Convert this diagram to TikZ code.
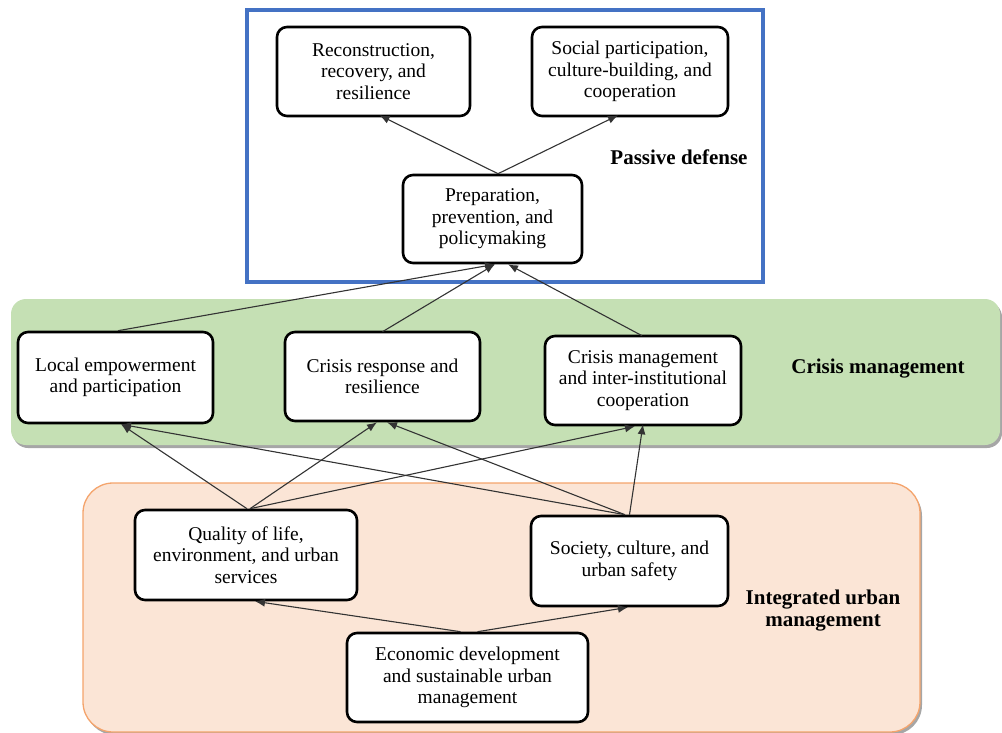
\documentclass[tikz,border=0pt]{standalone}
\usepackage{fontspec}
\setmainfont{Liberation Serif}
\usetikzlibrary{arrows.meta}
\definecolor{pdblue}{HTML}{4472C4}
\definecolor{cmgreen}{HTML}{C5E0B4}
\definecolor{iufill}{HTML}{FBE5D6}
\definecolor{iuline}{HTML}{F4A46C}
\definecolor{lnk}{HTML}{333333}
\tikzset{
  box/.style={draw=black, line width=2.6pt, rounded corners=10pt, fill=white,
    align=center, inner sep=1pt, font=\fontsize{19.5}{21.5}\selectfont},
  lbl/.style={align=center, font=\fontsize{21}{22}\selectfont\bfseries},
  link/.style={draw=lnk, line width=1.1pt, -{Latex[length=10pt,width=8pt]}},
  plain/.style={draw=lnk, line width=1.1pt}
}
\begin{document}
\begin{tikzpicture}[x=1pt,y=-1pt]
\useasboundingbox (0,0) rectangle (1002,733);
% bands
\fill[gray!70, rounded corners=15pt] (13,302) rectangle (1002,448);
\fill[cmgreen, rounded corners=15pt] (11,299) rectangle (1000,445);
\fill[gray!70, rounded corners=30pt] (85,486) rectangle (922,735);
\filldraw[fill=iufill, draw=iuline, line width=1.3pt, rounded corners=30pt] (83,483) rectangle (920,732);
\draw[pdblue, line width=3.5pt] (247,10) rectangle (763,282);
% nodes
\node[box, minimum width=193pt, minimum height=89pt] (rec) at (373.5,71.5) {Reconstruction,\\recovery, and\\resilience};
\node[box, minimum width=196pt, minimum height=89pt] (soc) at (630,71.5) {Social participation,\\culture-building, and\\cooperation};
\node[box, minimum width=179pt, minimum height=88pt] (prep) at (492.5,219) {Preparation,\\prevention, and\\policymaking};
\node[box, minimum width=195pt, minimum height=91pt] (loc) at (115.5,377.5) {Local empowerment\\and participation};
\node[box, minimum width=195pt, minimum height=89pt] (cres) at (382.5,376.5) {Crisis response and\\resilience};
\node[box, minimum width=196pt, minimum height=89pt] (cmg) at (643,380.5) {Crisis management\\and inter-institutional\\cooperation};
\node[box, minimum width=222pt, minimum height=90pt] (qual) at (246,555) {Quality of life,\\environment, and urban\\services};
\node[box, minimum width=197pt, minimum height=90pt] (socy) at (629.5,561) {Society, culture, and\\urban safety};
\node[box, minimum width=241pt, minimum height=89pt] (econ) at (467.5,677.5) {Economic development\\and sustainable urban\\management};
% labels
\node[lbl] (lpd) at (679,157) {Passive defense};
\node[lbl] (lcm) at (878,369) {Crisis management};
\node[lbl] (liu) at (823,611) {Integrated urban\\management};
% connectors
\draw[link] ([xshift=5.5pt]prep.north) -- ([xshift=6pt,yshift=2pt]rec.south);
\draw[link] ([xshift=5.5pt]prep.north) -- ([xshift=-12pt,yshift=2pt]soc.south);
\draw[link] ([xshift=2.5pt]loc.north) -- ([xshift=2.5pt]prep.south);
\draw[link] ([xshift=0pt,yshift=-1pt]cres.north) -- ([xshift=2.5pt]prep.south);
\draw[link] ([xshift=-1pt,yshift=-1pt]cmg.north) -- ([xshift=15.5pt]prep.south);
\draw[link] ([xshift=1pt]qual.north) -- ([xshift=5.5pt]loc.south);
\draw[link] ([xshift=4pt]qual.north) -- ([xshift=-5.5pt]cres.south);
\draw[link] ([xshift=4pt]qual.north) -- ([xshift=-8pt]cmg.south);
\draw[link] ([xshift=-4.5pt]socy.north) -- ([xshift=5.5pt]loc.south);
\draw[link] ([xshift=-4.5pt]socy.north) -- ([xshift=4.5pt]cres.south);
\draw[link] ([xshift=0pt]socy.north) -- ([xshift=0pt,yshift=2pt]cmg.south);
\draw[link] ([xshift=-7pt]econ.north) -- ([xshift=9pt]qual.south);
\draw[link] ([xshift=10pt]econ.north) -- ([xshift=-1.5pt]socy.south);
\end{tikzpicture}
\end{document}
